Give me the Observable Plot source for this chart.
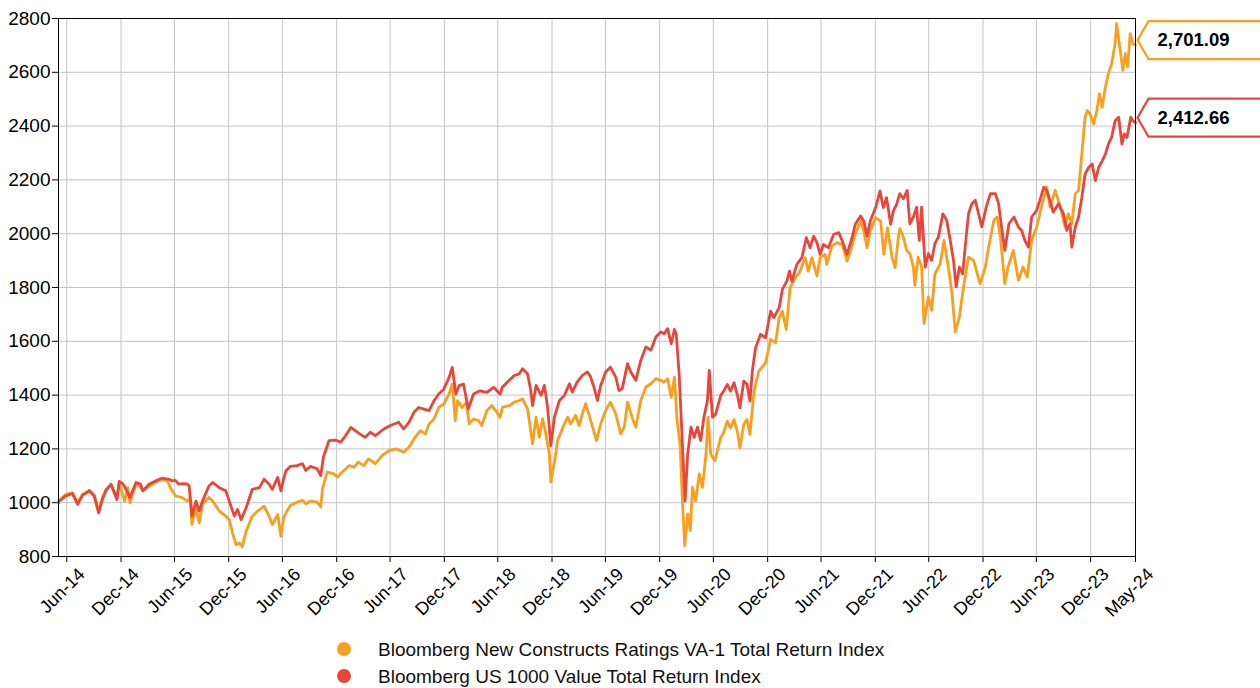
<!DOCTYPE html>
<html>
<head>
<meta charset="utf-8">
<script src="https://cdn.jsdelivr.net/npm/d3@7"></script>
<script src="https://cdn.jsdelivr.net/npm/@observablehq/plot@0.6"></script>
<style>
  html, body { margin: 0; padding: 0; background: #fff; overflow: hidden; }
  body { width: 1260px; height: 688px; font-family: "Liberation Sans", Arial, sans-serif; }
  #legend { position: absolute; left: 0; top: 634px; width: 1260px; }
  .row { position: relative; height: 27px; font-size: 19px; color: #111; }
  .row .dot { position: absolute; left: 337px; top: 8px; width: 14px; height: 14px; border-radius: 50%; }
  .row .lab { position: absolute; left: 378px; top: 6px; white-space: nowrap; line-height: 1; }
</style>
</head>
<body>
<div id="chart"></div>
<div id="legend"></div>
<script>
// ---- Data ----
const seriesNames = [
  "Bloomberg New Constructs Ratings VA-1 Total Return Index",
  "Bloomberg US 1000 Value Total Return Index"
];
const seriesColors = ["#f89f1f", "#e8453b"];

const orangeDates = ["2014-06-02","2014-06-04","2014-06-27","2014-07-19","2014-08-06","2014-08-22","2014-09-15","2014-10-01","2014-10-16","2014-10-29","2014-11-10","2014-11-27","2014-12-17","2014-12-25","2015-01-12","2015-01-23","2015-01-30","2015-02-20","2015-03-07","2015-03-15","2015-04-05","2015-04-27","2015-05-19","2015-06-06","2015-06-17","2015-07-04","2015-07-26","2015-08-13","2015-08-24","2015-08-28","2015-09-11","2015-09-22","2015-10-03","2015-10-25","2015-11-07","2015-11-29","2015-12-21","2016-01-02","2016-01-13","2016-01-25","2016-02-06","2016-02-15","2016-02-28","2016-03-20","2016-04-07","2016-04-29","2016-05-16","2016-05-27","2016-06-14","2016-06-25","2016-07-04","2016-07-12","2016-07-27","2016-08-19","2016-09-06","2016-09-17","2016-10-04","2016-10-26","2016-11-07","2016-11-13","2016-11-29","2016-12-21","2017-01-03","2017-01-19","2017-02-12","2017-02-28","2017-03-14","2017-04-02","2017-04-18","2017-05-11","2017-06-03","2017-06-26","2017-07-23","2017-08-15","2017-09-02","2017-09-19","2017-10-11","2017-10-28","2017-11-09","2017-11-26","2017-12-12","2017-12-29","2018-01-16","2018-01-27","2018-02-06","2018-02-14","2018-03-01","2018-03-16","2018-03-25","2018-04-09","2018-04-26","2018-05-07","2018-05-24","2018-06-10","2018-06-27","2018-07-08","2018-07-16","2018-08-08","2018-08-25","2018-09-11","2018-09-22","2018-10-09","2018-10-26","2018-11-07","2018-11-18","2018-11-29","2018-12-10","2018-12-22","2018-12-27","2019-01-08","2019-01-19","2019-02-06","2019-02-22","2019-03-04","2019-03-21","2019-04-02","2019-04-13","2019-04-24","2019-05-11","2019-05-31","2019-06-14","2019-07-01","2019-07-17","2019-08-04","2019-08-21","2019-09-02","2019-09-13","2019-09-30","2019-10-11","2019-10-28","2019-11-14","2019-12-01","2019-12-18","2020-01-04","2020-01-15","2020-01-27","2020-02-08","2020-02-19","2020-02-28","2020-03-09","2020-03-17","2020-03-25","2020-04-04","2020-04-13","2020-04-20","2020-05-01","2020-05-13","2020-05-24","2020-06-05","2020-06-12","2020-06-21","2020-07-05","2020-07-25","2020-08-04","2020-08-16","2020-08-27","2020-09-08","2020-09-19","2020-09-28","2020-10-11","2020-10-22","2020-11-01","2020-11-15","2020-12-01","2020-12-24","2021-01-10","2021-01-27","2021-02-08","2021-02-19","2021-03-04","2021-03-17","2021-04-04","2021-04-20","2021-05-07","2021-05-18","2021-05-30","2021-06-16","2021-06-27","2021-07-14","2021-07-19","2021-08-06","2021-08-23","2021-09-10","2021-09-26","2021-10-08","2021-10-24","2021-11-11","2021-11-22","2021-12-03","2021-12-14","2022-01-01","2022-01-18","2022-01-29","2022-02-10","2022-02-26","2022-03-08","2022-03-19","2022-03-24","2022-04-05","2022-04-16","2022-04-27","2022-05-09","2022-05-14","2022-05-25","2022-06-06","2022-06-14","2022-06-29","2022-07-10","2022-07-21","2022-08-08","2022-08-21","2022-09-06","2022-09-17","2022-09-28","2022-10-12","2022-10-26","2022-11-12","2022-11-29","2022-12-21","2023-01-08","2023-01-19","2023-02-06","2023-02-17","2023-02-28","2023-03-15","2023-03-26","2023-04-13","2023-04-30","2023-05-16","2023-05-30","2023-06-14","2023-07-01","2023-07-17","2023-08-04","2023-08-15","2023-09-02","2023-09-19","2023-10-05","2023-10-16","2023-10-28","2023-11-09","2023-11-20","2023-12-01","2023-12-12","2023-12-20","2023-12-29","2024-01-10","2024-01-21","2024-01-30","2024-02-08","2024-02-19","2024-02-29","2024-03-11","2024-03-23","2024-03-28","2024-04-06","2024-04-18","2024-04-26","2024-05-04","2024-05-13","2024-05-22","2024-05-31"];
const orangeValues = [1000,1006,1031,1037,1000,1031,1046,1029,969,1019,1050,1066,1019,1075,1006,1056,1000,1069,1059,1044,1062,1075,1087,1081,1054,1025,1019,1006,1019,919,981,925,994,1019,1006,969,950,937,887,844,850,837,894,950,969,987,950,919,956,875,944,962,990,1002,1009,996,1006,1002,984,1052,1114,1107,1095,1114,1138,1132,1151,1138,1163,1145,1175,1194,1200,1188,1206,1237,1268,1256,1293,1311,1354,1367,1404,1441,1305,1379,1354,1373,1293,1311,1305,1287,1342,1361,1336,1317,1355,1361,1374,1380,1386,1349,1219,1318,1243,1312,1256,1181,1076,1150,1231,1281,1318,1293,1324,1287,1330,1368,1306,1231,1293,1343,1374,1330,1256,1281,1374,1312,1281,1380,1430,1442,1461,1455,1448,1461,1392,1467,1306,1219,1007,840,958,896,1057,1007,1107,1057,1181,1318,1181,1156,1243,1260,1303,1278,1309,1266,1204,1291,1309,1254,1415,1489,1520,1607,1595,1688,1712,1644,1799,1836,1861,1911,1861,1911,1843,1911,1923,1886,1954,1967,1960,1898,1936,1998,2047,2010,1948,2010,2060,2047,1923,2022,1911,1874,1985,2019,1988,1938,1926,1876,1808,1913,1876,1666,1765,1715,1851,1889,1975,1864,1777,1635,1690,1802,1913,1901,1814,1876,1950,2050,2062,1988,1814,1876,1938,1827,1876,1839,1975,2025,2099,2173,2099,2161,2099,2025,2074,2037,2149,2161,2296,2433,2458,2445,2408,2458,2520,2470,2545,2595,2632,2707,2781,2707,2607,2669,2620,2744,2707,2701.09];

const redDates = ["2014-06-02","2014-06-04","2014-06-27","2014-07-19","2014-08-06","2014-08-22","2014-09-15","2014-10-01","2014-10-16","2014-10-29","2014-11-10","2014-11-27","2014-12-17","2014-12-25","2015-01-06","2015-01-17","2015-01-30","2015-02-20","2015-03-07","2015-03-15","2015-04-05","2015-04-27","2015-05-19","2015-06-12","2015-06-23","2015-07-02","2015-07-15","2015-08-02","2015-08-13","2015-08-19","2015-08-28","2015-09-11","2015-09-22","2015-10-03","2015-10-25","2015-11-07","2015-11-29","2015-12-21","2016-01-02","2016-01-19","2016-01-30","2016-02-11","2016-02-28","2016-03-20","2016-04-13","2016-04-29","2016-05-16","2016-05-27","2016-06-14","2016-06-25","2016-07-04","2016-07-12","2016-07-27","2016-08-19","2016-09-06","2016-09-17","2016-10-04","2016-10-26","2016-11-07","2016-11-16","2016-12-05","2016-12-27","2017-01-14","2017-01-30","2017-02-17","2017-03-04","2017-03-19","2017-04-07","2017-04-24","2017-05-11","2017-06-09","2017-07-01","2017-07-29","2017-08-15","2017-09-02","2017-09-19","2017-10-05","2017-10-22","2017-11-09","2017-11-26","2017-12-12","2017-12-29","2018-01-16","2018-01-27","2018-02-08","2018-02-19","2018-03-06","2018-03-22","2018-04-09","2018-05-01","2018-05-24","2018-06-16","2018-07-08","2018-07-16","2018-08-08","2018-08-25","2018-09-11","2018-09-22","2018-10-09","2018-10-20","2018-10-26","2018-11-07","2018-11-24","2018-12-05","2018-12-16","2018-12-27","2019-01-08","2019-01-25","2019-02-11","2019-02-28","2019-03-10","2019-03-26","2019-04-13","2019-04-30","2019-05-11","2019-05-22","2019-06-03","2019-06-14","2019-07-01","2019-07-17","2019-08-04","2019-08-15","2019-08-26","2019-09-13","2019-09-24","2019-10-11","2019-10-28","2019-11-14","2019-12-01","2019-12-18","2020-01-04","2020-01-15","2020-01-27","2020-02-08","2020-02-19","2020-02-25","2020-03-06","2020-03-17","2020-03-26","2020-04-04","2020-04-15","2020-04-26","2020-05-07","2020-05-18","2020-05-29","2020-06-10","2020-06-16","2020-06-27","2020-07-08","2020-07-25","2020-08-04","2020-08-16","2020-08-27","2020-09-08","2020-09-19","2020-09-28","2020-10-11","2020-10-22","2020-11-01","2020-11-09","2020-11-20","2020-12-07","2020-12-24","2021-01-10","2021-01-21","2021-02-08","2021-02-19","2021-03-06","2021-03-15","2021-03-23","2021-04-09","2021-04-26","2021-05-11","2021-05-24","2021-06-05","2021-06-16","2021-06-27","2021-07-08","2021-07-25","2021-08-12","2021-08-29","2021-09-10","2021-09-26","2021-10-13","2021-10-24","2021-11-11","2021-11-22","2021-12-03","2021-12-14","2022-01-01","2022-01-16","2022-01-27","2022-02-07","2022-02-21","2022-03-02","2022-03-13","2022-03-24","2022-04-05","2022-04-18","2022-04-27","2022-05-09","2022-05-20","2022-05-29","2022-06-06","2022-06-18","2022-06-29","2022-07-10","2022-07-21","2022-08-02","2022-08-17","2022-08-30","2022-09-11","2022-09-22","2022-10-01","2022-10-12","2022-10-23","2022-11-05","2022-11-12","2022-11-23","2022-12-05","2022-12-16","2022-12-27","2023-01-11","2023-01-25","2023-02-11","2023-02-22","2023-03-04","2023-03-15","2023-03-29","2023-04-15","2023-04-30","2023-05-11","2023-05-22","2023-06-03","2023-06-14","2023-07-01","2023-07-12","2023-07-25","2023-08-04","2023-08-15","2023-08-26","2023-09-13","2023-09-30","2023-10-11","2023-10-22","2023-10-28","2023-11-09","2023-11-20","2023-12-01","2023-12-12","2023-12-24","2024-01-05","2024-01-16","2024-01-27","2024-02-08","2024-02-19","2024-02-29","2024-03-11","2024-03-23","2024-04-04","2024-04-15","2024-04-23","2024-05-02","2024-05-15","2024-05-22","2024-05-31"];
const redValues = [1000,1006,1025,1034,994,1027,1044,1025,962,1012,1046,1069,1012,1079,1071,1050,1019,1075,1069,1044,1069,1081,1091,1087,1081,1084,1069,1071,1069,1062,950,1006,969,1006,1062,1075,1056,1044,1006,950,975,937,981,1050,1056,1087,1069,1050,1094,1044,1087,1119,1135,1138,1145,1120,1135,1126,1101,1169,1231,1233,1225,1249,1280,1268,1256,1243,1262,1249,1274,1287,1299,1274,1299,1336,1354,1348,1342,1379,1404,1422,1466,1503,1404,1435,1441,1348,1404,1416,1410,1429,1404,1430,1455,1473,1479,1498,1479,1417,1361,1436,1399,1436,1355,1212,1318,1380,1399,1442,1411,1448,1473,1486,1467,1430,1380,1436,1486,1504,1467,1417,1424,1517,1486,1455,1529,1579,1567,1616,1635,1628,1647,1591,1644,1628,1479,1219,1007,1181,1281,1243,1281,1231,1318,1380,1492,1318,1330,1399,1415,1440,1415,1446,1402,1353,1452,1440,1378,1489,1576,1626,1613,1712,1688,1725,1793,1824,1861,1824,1886,1911,1985,1948,1991,1967,1923,1960,1948,1998,2004,1973,1923,1985,2035,2066,2047,1991,2047,2097,2159,2097,2134,2035,2084,2109,2149,2130,2161,2037,2062,2099,1975,2099,1876,1926,1901,1963,1988,2074,2050,1975,1901,1802,1876,1851,2000,2074,2111,2124,2074,2025,2099,2149,2149,2111,2025,1938,2037,2062,2025,2012,1975,1950,2062,2087,2124,2173,2161,2124,2080,2111,2074,2012,2037,1950,2025,2062,2134,2221,2246,2259,2197,2246,2271,2296,2333,2358,2420,2433,2333,2371,2358,2433,2420,2412.66];

const xDomain = ["2014-06-02", "2024-05-31"];
const xTickDates = ["2014-06-30","2014-12-31","2015-06-30","2015-12-31","2016-06-30","2016-12-31","2017-06-30","2017-12-31","2018-06-30","2018-12-31","2019-06-30","2019-12-31","2020-06-30","2020-12-31","2021-06-30","2021-12-31","2022-06-30","2022-12-31","2023-06-30","2023-12-31","2024-05-31"];
const yTicks = [800,1000,1200,1400,1600,1800,2000,2200,2400,2600,2800];

// ---- Build rows ----
const rows = (dates, values, k) => dates.map((d, i) => ({date: new Date(d), value: values[i], series: k}));
const orangeRows = rows(orangeDates, orangeValues, 0);
const redRows = rows(redDates, redValues, 1);
const lastRows = [orangeRows[orangeRows.length - 1], redRows[redRows.length - 1]];
const xTicks = xTickDates.map(d => new Date(d));
const fmtTick = d3.utcFormat("%b-%y");
const fmtVal = d3.format(",.2f");

// callout box symbol (pointing left), drawn around the dot position
const callout = {
  draw(ctx) {
    ctx.moveTo(2, 0);
    ctx.lineTo(13, -19);
    ctx.lineTo(128, -19);
    ctx.lineTo(128, 19);
    ctx.lineTo(13, 19);
    ctx.closePath();
  }
};

const FONT = "'Liberation Sans', Arial, sans-serif";

const chart = Plot.plot({
  width: 1260,
  height: 630,
  marginLeft: 58,
  marginRight: 125,
  marginTop: 18,
  marginBottom: 74,
  style: {fontFamily: FONT, fontSize: "18px", color: "#000", background: "#fff", overflow: "visible"},
  x: {type: "utc", domain: xDomain.map(d => new Date(d)), label: null},
  y: {domain: [800, 2800], label: null},
  marks: [
    Plot.gridX(xTicks, {stroke: "#c4c4c4", strokeOpacity: 1, strokeWidth: 1}),
    Plot.gridY(yTicks, {stroke: "#c4c4c4", strokeOpacity: 1, strokeWidth: 1}),
    Plot.axisY(yTicks, {tickSize: 6, tickPadding: 2, fontSize: 19, tickFormat: d => String(d), label: null, stroke: "#000"}),
    Plot.axisX(xTicks, {tickSize: 6, tickFormat: () => "", label: null, stroke: "#000"}),
    Plot.axisX(xTicks, {tickSize: 0, tickRotate: -45, tickFormat: fmtTick, fontSize: 18, dx: 15, dy: 3, label: null}),
    Plot.lineY(orangeRows, {x: "date", y: "value", stroke: seriesColors[0], strokeWidth: 2.8, curve: "linear"}),
    Plot.lineY(redRows, {x: "date", y: "value", stroke: seriesColors[1], strokeWidth: 2.8, curve: "linear"}),
    Plot.frame({stroke: "#000", strokeWidth: 1}),
    Plot.dot(lastRows, {x: "date", y: "value", symbol: callout, r: 5, fill: "#fff", stroke: d => seriesColors[d.series], strokeWidth: 2.2, dy: -5}),
    Plot.text(lastRows, {x: "date", y: "value", text: d => fmtVal(d.value), dx: 22, dy: -5, textAnchor: "start", fontWeight: "bold", fontSize: 18.5, fill: "#000"})
  ]
});
document.getElementById("chart").appendChild(chart);

// ---- Legend ----
const legend = document.getElementById("legend");
seriesNames.forEach((name, i) => {
  const row = document.createElement("div");
  row.className = "row";
  const dot = document.createElement("span");
  dot.className = "dot";
  dot.style.background = seriesColors[i];
  const lab = document.createElement("span");
  lab.className = "lab";
  lab.textContent = name;
  row.appendChild(dot);
  row.appendChild(lab);
  legend.appendChild(row);
});
</script>
</body>
</html>
